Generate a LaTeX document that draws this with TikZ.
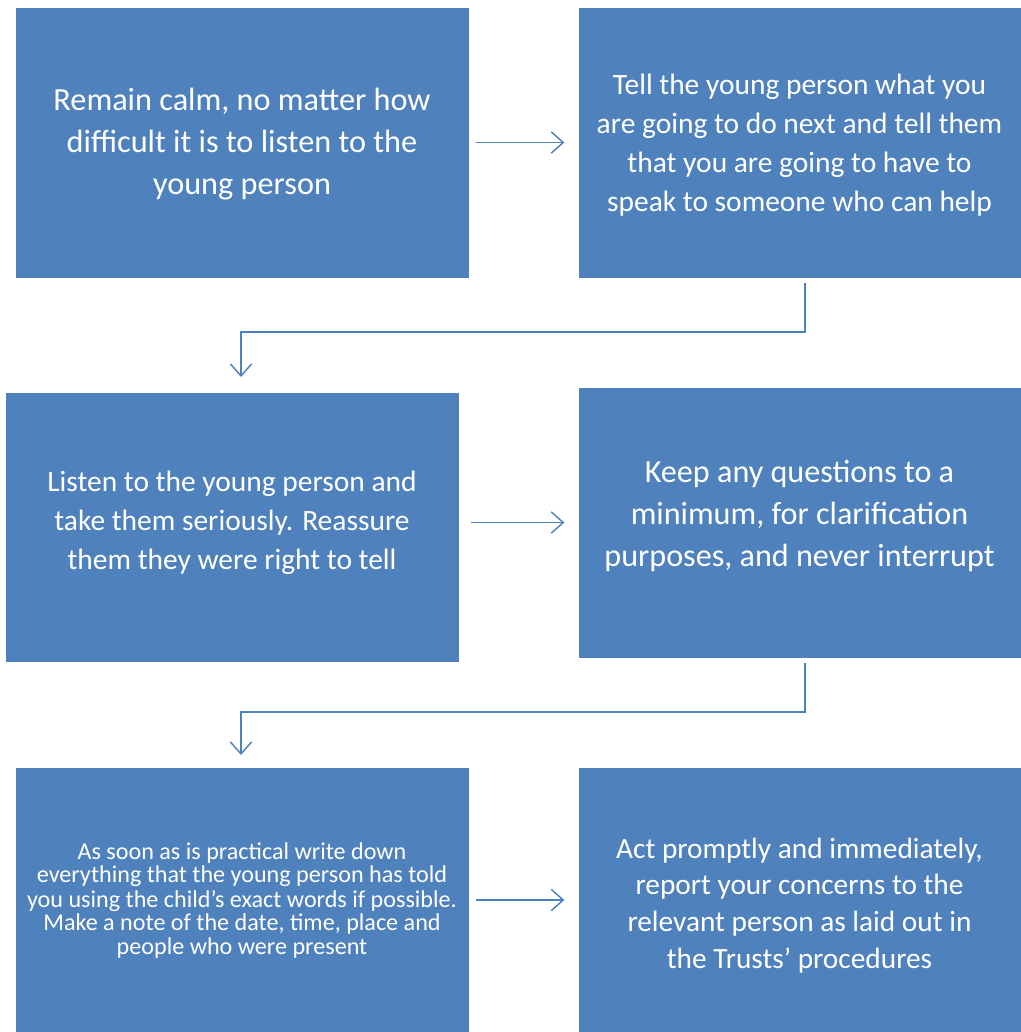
\documentclass[tikz,border=0pt]{standalone}
\usepackage{fontspec}
\setmainfont{Carlito}
\usetikzlibrary{positioning,calc,arrows.meta}
\definecolor{stepblue}{HTML}{4F81BD}
% text block, lifted by #1 without changing the box size
\newcommand\boxlines[2][0pt]{\raisebox{#1}[\height][\depth]{\begin{tabular}{@{}c@{}}#2\end{tabular}}}

\begin{document}
\begin{tikzpicture}[x=0.75pt,y=-0.75pt,
				box/.style={fill=stepblue,draw=stepblue,rectangle,text=white,inner sep=0pt,outer sep=0pt},
				flow/.style={draw=stepblue,line width=1.3pt,-{Straight Barb[length=9pt,width=16pt,line width=1.1pt]}}]
				\useasboundingbox (0,0) rectangle (1021,1032);
				\node (A) [box,minimum width=339pt,minimum height=201.75pt,font=\fontsize{24.2}{31.5}\selectfont] at (242,142.5)
					{\boxlines[-1pt]{Remain calm, no matter how\\difficult it is to listen to the\\young person}};
				\node (B) [box,minimum width=330.75pt,minimum height=201.75pt,font=\fontsize{22.1}{29.2}\selectfont] at (799.5,142.5)
					{\boxlines[-2.2pt]{Tell the young person what you\\are going to do next and tell them\\that you are going to have to\\speak to someone who can help}};
				\node (C) [box,minimum width=339pt,minimum height=201pt,font=\fontsize{22.1}{29.2}\selectfont] at (232,527)
					{\boxlines[3pt]{Listen to the young person and\\take them seriously. Reassure\\them they were right to tell}};
				\node (D) [box,minimum width=330.75pt,minimum height=201.75pt,font=\fontsize{24.1}{31.5}\selectfont] at (799.5,522.5)
					{\boxlines[4.5pt]{Keep any questions to a\\minimum, for clarification\\purposes, and never interrupt}};
				\node (E) [box,minimum width=339pt,minimum height=198pt,font=\fontsize{18.1}{17.6}\selectfont] at (242,900)
					{\boxlines[-1.5pt]{As soon as is practical write down\\everything that the young person has told\\you using the child’s exact words if possible.\\Make a note of the date, time, place and\\people who were present}};
				\node (F) [box,minimum width=330.75pt,minimum height=198pt,font=\fontsize{22}{27.6}\selectfont] at (799.5,900)
					{\boxlines[-4.5pt]{Act promptly and immediately,\\report your concerns to the\\relevant person as laid out in\\the Trusts’ procedures}};

				\draw[flow] ([xshift=6]A.east) -- ([xshift=-11]B.west);
				\draw[flow] ($(C.east |- D.west)+(13,0)$) -- ([xshift=-11]D.west);
				\draw[flow] ([xshift=6]E.east) -- ([xshift=-11]F.west);
				\draw[flow] ([shift={(5.5,6)}]B.south) -- ++(0,49) -| ([shift={(9,-16)}]C.north);
				\draw[flow] ([shift={(5.5,6)}]D.south) -- ++(0,49) -| ([shift={(-1,-13)}]E.north);
			\end{tikzpicture}
\end{document}
